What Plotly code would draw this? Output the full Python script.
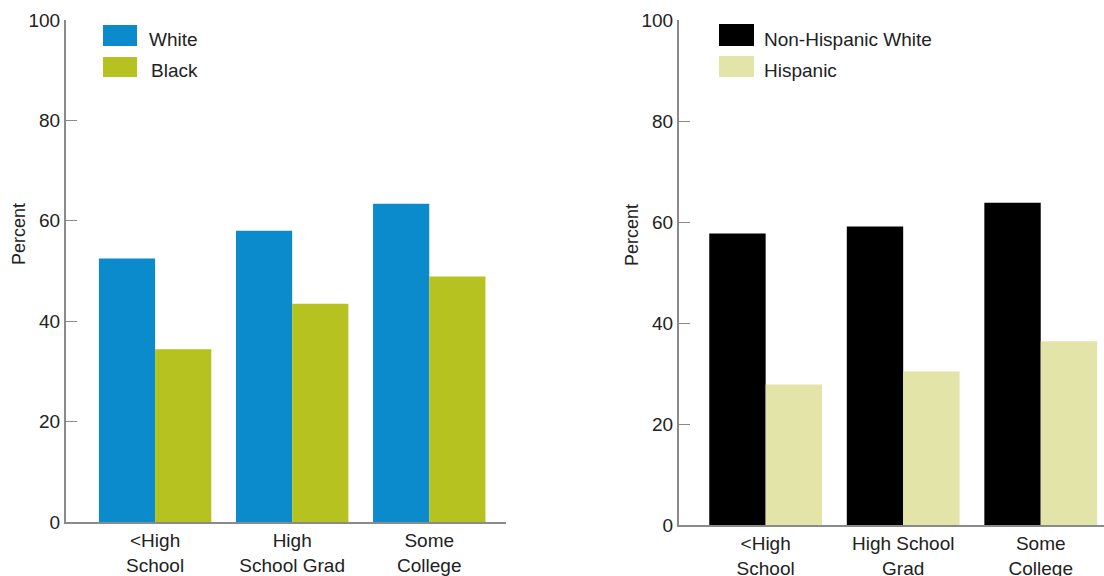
import plotly.graph_objects as go

# ---- data ----
categories_left = ["<High<br>School", "High<br>School Grad", "Some<br>College"]
categories_right = ["<High<br>School", "High School<br>Grad", "Some<br>College"]
white = [52.5, 58.0, 63.4]
black = [34.4, 43.5, 48.9]
nh_white = [57.7, 59.1, 63.8]
hispanic = [27.8, 30.4, 36.4]
y_ticks = [0, 20, 40, 60, 80, 100]
y_title = "Percent"

FONT = "Liberation Sans, Arial, Helvetica, sans-serif"
TXT = "#222222"
AXC = "#8a8a8a"
COL = {"White": "#0b8bcc", "Black": "#b5c220",
       "Non-Hispanic White": "#000000", "Hispanic": "#e2e4a8"}
W, H = 1104, 576

fig = go.Figure()
for name, vals, xa, ya, cats in [("White", white, "x", "y", categories_left),
                                 ("Black", black, "x", "y", categories_left),
                                 ("Non-Hispanic White", nh_white, "x2", "y2", categories_right),
                                 ("Hispanic", hispanic, "x2", "y2", categories_right)]:
    fig.add_trace(go.Bar(x=cats, y=vals, name=name, showlegend=False,
                         marker=dict(color=COL[name], line=dict(width=0)),
                         xaxis=xa, yaxis=ya))

xcommon = dict(type="category", showline=True, linecolor=AXC, linewidth=2,
               ticks="", showgrid=False, zeroline=False, automargin=False,
               tickfont=dict(family=FONT, size=19, color=TXT), fixedrange=True)
ycommon = dict(range=[0, 100], tickvals=y_ticks, showline=True, linecolor=AXC,
               linewidth=2, ticks="inside", ticklen=11, tickcolor=AXC, tickwidth=1,
               showgrid=False, zeroline=False, automargin=False, fixedrange=True,
               tickfont=dict(family=FONT, size=19, color=TXT))

# legend drawn as swatches + labels (paper coordinates from pixel layout)
shapes, annotations = [], []
legend_items = [("White", 103, 137, 25, 46, 147, 39),
                ("Black", 103, 137, 57, 77, 149, 71),
                ("Non-Hispanic White", 719, 754, 24, 46, 762, 39),
                ("Hispanic", 719, 754, 56, 77, 762, 71)]
for name, x0, x1, y0, y1, tx, ty in legend_items:
    shapes.append(dict(type="rect", xref="paper", yref="paper",
                       x0=x0 / W, x1=x1 / W, y0=1 - y1 / H, y1=1 - y0 / H,
                       fillcolor=COL[name], line=dict(width=0)))
    annotations.append(dict(text=name, xref="paper", yref="paper",
                            x=tx / W, y=1 - ty / H, xanchor="left", yanchor="middle",
                            showarrow=False, font=dict(family=FONT, size=19, color=TXT)))
# y-axis titles
for tx, ty in [(19, 234), (632, 235)]:
    annotations.append(dict(text=y_title, xref="paper", yref="paper", textangle=-90,
                            x=tx / W, y=1 - ty / H, xanchor="center", yanchor="middle",
                            showarrow=False, font=dict(family=FONT, size=18, color=TXT)))

fig.update_layout(
    width=W, height=H,
    margin=dict(l=0, r=0, t=0, b=0, autoexpand=False),
    paper_bgcolor="white", plot_bgcolor="white",
    barmode="group", bargap=0.18, bargroupgap=0,
    font=dict(family=FONT, color=TXT),
    xaxis=dict(xcommon, domain=[66 / W, 506 / W], range=[-0.65, 2.56], anchor="y"),
    yaxis=dict(ycommon, domain=[1 - 522 / H, 1 - 20 / H], anchor="x"),
    xaxis2=dict(xcommon, domain=[679 / W, 1.0], range=[-0.63, 2.46], anchor="y2"),
    yaxis2=dict(ycommon, domain=[1 - 525 / H, 1 - 20 / H], anchor="x2"),
    shapes=shapes, annotations=annotations,
)

fig.write_html("out.html", config={"displayModeBar": False, "staticPlot": True},
               post_script="document.body.style.margin='0';document.body.style.overflow='hidden';")
